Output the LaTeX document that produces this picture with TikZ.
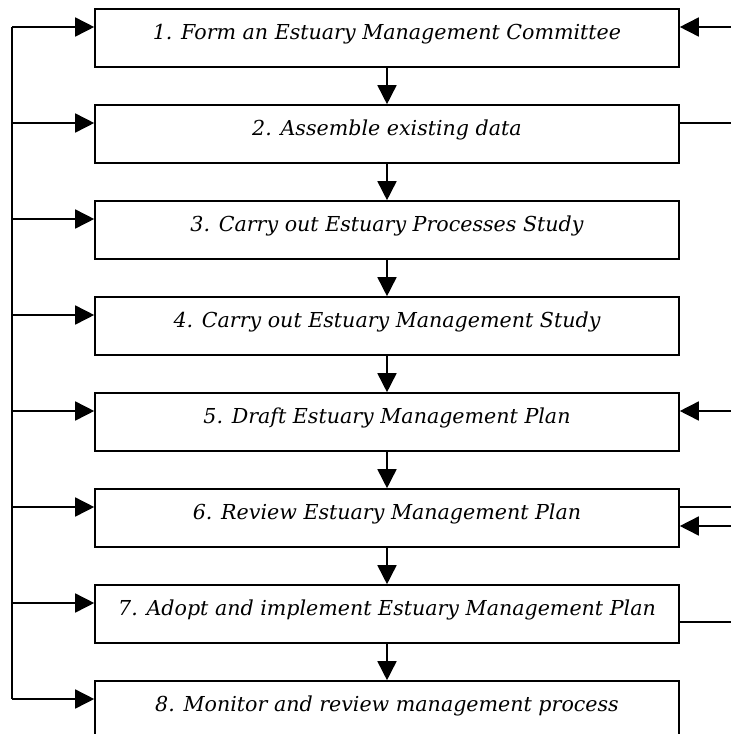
\documentclass[tikz,border=0pt]{standalone}
\usepackage{fontspec}
\newfontfamily\boxfont{DejaVu Serif}
\usetikzlibrary{arrows.meta}
\newcommand\liftup[1]{\raisebox{4pt}[\height][\depth]{#1}}
\tikzset{
  stepbox/.style={draw, line width=1.6pt, minimum width=584pt, minimum height=58pt,
    inner sep=0pt, font=\boxfont\itshape\fontsize{20.6}{24}\selectfont},
  conn/.style={line width=1.6pt},
  arr/.style={conn, -{Triangle[length=19pt,width=19pt]}}
}
\begin{document}
\begin{tikzpicture}[x=1pt,y=-1pt]
\clip (0,0) rectangle (731,734);
\fill[white] (0,0) rectangle (731,734);
\node[stepbox] (b1) at (387,38)  {\liftup{1. Form an Estuary Management Committee}};
\node[stepbox] (b2) at (387,134) {\liftup{2. Assemble existing data}};
\node[stepbox] (b3) at (387,230) {\liftup{3. Carry out Estuary Processes Study}};
\node[stepbox] (b4) at (387,326) {\liftup{4. Carry out Estuary Management Study}};
\node[stepbox] (b5) at (387,422) {\liftup{5. Draft Estuary Management Plan}};
\node[stepbox] (b6) at (387,518) {\liftup{6. Review Estuary Management Plan}};
\node[stepbox] (b7) at (387,614) {\liftup{7. Adopt and implement Estuary Management Plan}};
\node[stepbox] (b8) at (387,710) {\liftup{8. Monitor and review management process}};
% down arrows
\foreach \a/\b in {b1/b2,b2/b3,b3/b4,b4/b5,b5/b6,b6/b7,b7/b8}
  \draw[arr] (\a.south) -- (\b.north);
% left feedback loop
\foreach \i/\y in {1/27,2/123,3/219,4/315,5/411,6/507,7/603,8/699}
  \coordinate (L\i) at (12,\y);
\draw[conn] (L1) -- (L8);
\foreach \i in {1,...,8}
  \draw[arr] (L\i) -- (L\i -| b\i.west);
% right side connectors
\coordinate (R1) at (731,27);
\coordinate (R2) at (731,123);
\coordinate (R5) at (731,411);
\coordinate (R6o) at (731,507);
\coordinate (R6i) at (731,526);
\coordinate (R7) at (731,622);
\draw[arr] (R1) -- (R1 -| b1.east);
\draw[conn] (R2 -| b2.east) -- (R2);
\draw[arr] (R5) -- (R5 -| b5.east);
\draw[conn] (R6o -| b6.east) -- (R6o);
\draw[arr] (R6i) -- (R6i -| b6.east);
\draw[conn] (R7 -| b7.east) -- (R7);
\end{tikzpicture}
\end{document}
